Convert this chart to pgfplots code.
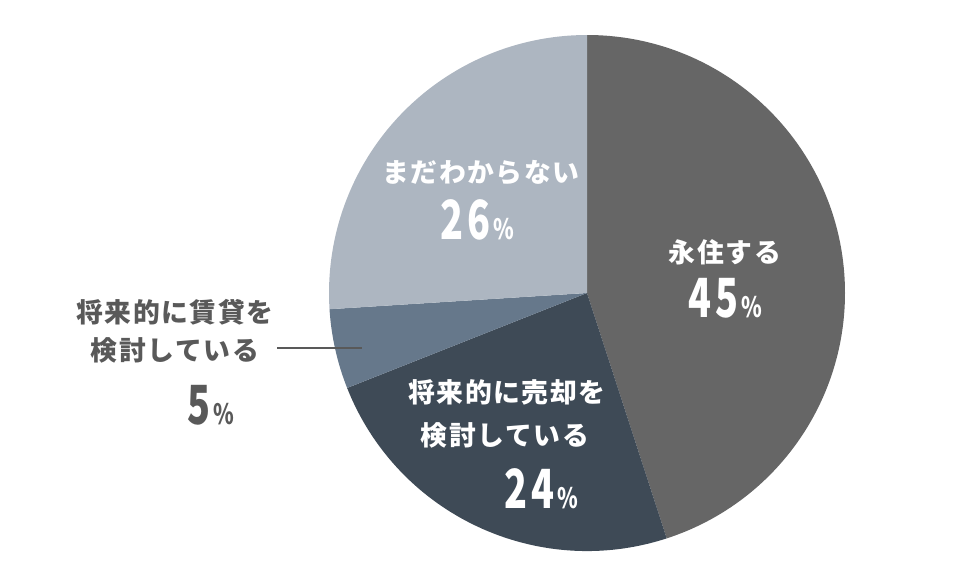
\documentclass[border=0pt]{standalone}
\usepackage{pgfplots}
\pgfplotsset{compat=1.18}
\usepackage{graphicx}
\usepackage{fontspec}
\setmainfont{Liberation Sans}
\newfontfamily\jp[LetterSpace=6]{Noto Sans CJK JP}
\newfontfamily\jpnum[LetterSpace=10]{Noto Sans CJK JP}
\definecolor{sA}{HTML}{666666}
\definecolor{sB}{HTML}{3E4A56}
\definecolor{sC}{HTML}{66788B}
\definecolor{sD}{HTML}{ADB6C1}
\definecolor{lab}{HTML}{595959}
% values (percent)
\def\vA{45}\def\vB{24}\def\vC{5}\def\vD{26}
\pgfmathsetmacro\aA{90}
\pgfmathsetmacro\aB{90-3.6*\vA}
\pgfmathsetmacro\aC{\aB-3.6*\vB}
\pgfmathsetmacro\aD{\aC-3.6*\vC}
\pgfmathsetmacro\aE{\aD-3.6*\vD}
\newcommand\jlab[1]{{\jp\bfseries\fontsize{13.4}{15}\selectfont #1}}
\newcommand\pnum[1]{{\jpnum\bfseries\scalebox{0.7}[1]{\fontsize{27}{27}\selectfont #1}\kern1.5pt{\fontsize{14}{14}\selectfont\scalebox{0.75}[1]{\%}}}}
\begin{document}
\begin{tikzpicture}
\begin{axis}[hide axis, scale only axis, width=483pt, height=293pt,
  xmin=0, xmax=966, ymin=0, ymax=586, clip=false]
\path (axis cs:0,0) rectangle (axis cs:966,586);
\fill[sA] (axis cs:587,293) -- ++(\aA:129pt) arc[start angle=\aA, end angle=\aB, radius=129pt] -- cycle;
\fill[sB] (axis cs:587,293) -- ++(\aB:129pt) arc[start angle=\aB, end angle=\aC, radius=129pt] -- cycle;
\fill[sC] (axis cs:587,293) -- ++(\aC:129pt) arc[start angle=\aC, end angle=\aD, radius=129pt] -- cycle;
\fill[sD] (axis cs:587,293) -- ++(\aD:129pt) arc[start angle=\aD, end angle=\aE, radius=129pt] -- cycle;
\draw[lab, line width=0.8pt] (axis cs:277,238) -- (axis cs:362,238);
\node[white] at (axis cs:481,413) {\jlab{まだわからない}};
\node[white] at (axis cs:477,366) {\pnum{26}};
\node[white] at (axis cs:725,334) {\jlab{永住する}};
\node[white] at (axis cs:725,288) {\pnum{45}};
\node[white] at (axis cs:507,194) {\jlab{将来的に売却を}};
\node[white] at (axis cs:505,151) {\jlab{検討している}};
\node[white] at (axis cs:541,97) {\pnum{24}};
\node[lab] at (axis cs:175,274) {\jlab{将来的に賃貸を}};
\node[lab] at (axis cs:175,236) {\jlab{検討している}};
\node[lab] at (axis cs:211,181) {\pnum{5}};
\end{axis}
\end{tikzpicture}
\end{document}
